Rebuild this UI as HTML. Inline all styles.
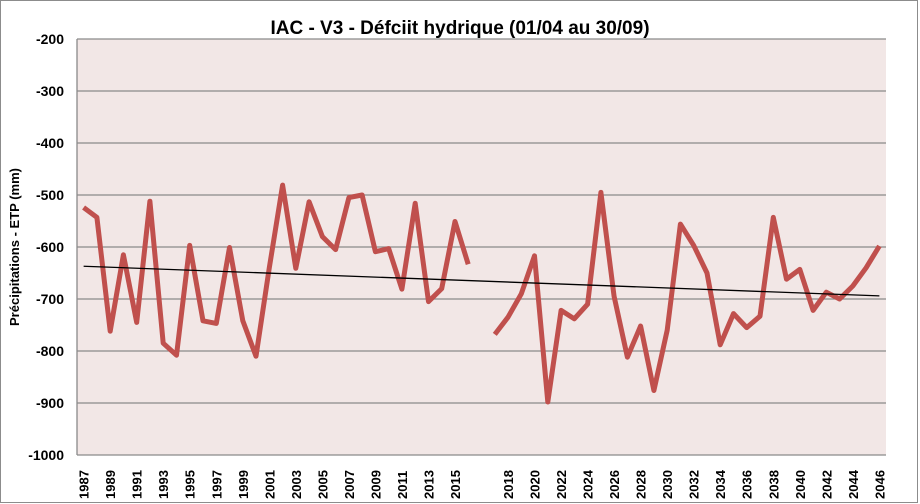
<!DOCTYPE html>
<html><head><meta charset="utf-8"><style>
html,body{margin:0;padding:0;background:#fff;}
svg{display:block;font-family:"Liberation Sans",sans-serif;}
</style></head><body>
<svg id="c" width="920" height="504" xmlns="http://www.w3.org/2000/svg"></svg>
<script>
const s=document.getElementById('c');
const L=77,R=886,T=39,B=455;
const n=61,w=(R-L)/n;
const Y=v=>T+(-200-v)/800*(B-T);
const X=i=>L+(i+0.5)*w;
let h='<rect x="0.5" y="0.5" width="917" height="502" fill="#fff" stroke="#8c8c8c"/>';
h+=`<rect x="${L}" y="${T}" width="${R-L}" height="${B-T}" fill="#f2e7e6"/>`;
for(let v=-200;v>=-1000;v-=100){const y=Y(v);
 h+=`<line x1="${L}" x2="${R}" y1="${y}" y2="${y}" stroke="#8a8a8a" stroke-width="1.3"/>`;
 h+=`<text x="64" y="${y+5}" text-anchor="end" font-size="14" font-weight="bold">${v}</text>`;}
h+=`<line x1="${L}" x2="${L}" y1="${T}" y2="${B}" stroke="#8a8a8a" stroke-width="1.3"/>`;
const a=[-524,-543,-762,-615,-745,-512,-785,-808,-597,-742,-747,-601,-742,-810,-640,-481,-641,-513,-580,-605,-505,-500,-609,-603,-681,-516,-705,-680,-551,-633];
const b=[-768,-735,-690,-617,-898,-722,-738,-710,-495,-695,-812,-752,-876,-760,-556,-597,-650,-788,-728,-755,-733,-543,-662,-643,-722,-687,-700,-675,-640,-598];
const pa=a.map((v,i)=>X(i).toFixed(1)+','+Y(v).toFixed(1)).join(' ');
const pb=b.map((v,i)=>X(i+31).toFixed(1)+','+Y(v).toFixed(1)).join(' ');
h+=`<polyline points="${pa}" fill="none" stroke="#c0504d" stroke-width="5" stroke-linejoin="round"/>`;
h+=`<polyline points="${pb}" fill="none" stroke="#c0504d" stroke-width="5" stroke-linejoin="round"/>`;
h+=`<line x1="${X(0)}" y1="${Y(-637)}" x2="${X(60)}" y2="${Y(-694)}" stroke="#000" stroke-width="1.3"/>`;
for(let i=0;i<n;i+=2){let yr=i<30?1987+i:1986+i;if(i==30)continue;
 const x=X(i)+5;
 h+=`<text transform="translate(${x},499) rotate(-90)" font-size="13" font-weight="bold">${yr}</text>`;}
h+=`<text x="460" y="34" text-anchor="middle" font-size="19" font-weight="bold">IAC - V3 - Défciit hydrique (01/04 au 30/09)</text>`;
h+=`<text transform="translate(19,247) rotate(-90)" text-anchor="middle" font-size="13" font-weight="bold">Précipitations - ETP (mm)</text>`;
s.innerHTML=h;
</script>
</body></html>
